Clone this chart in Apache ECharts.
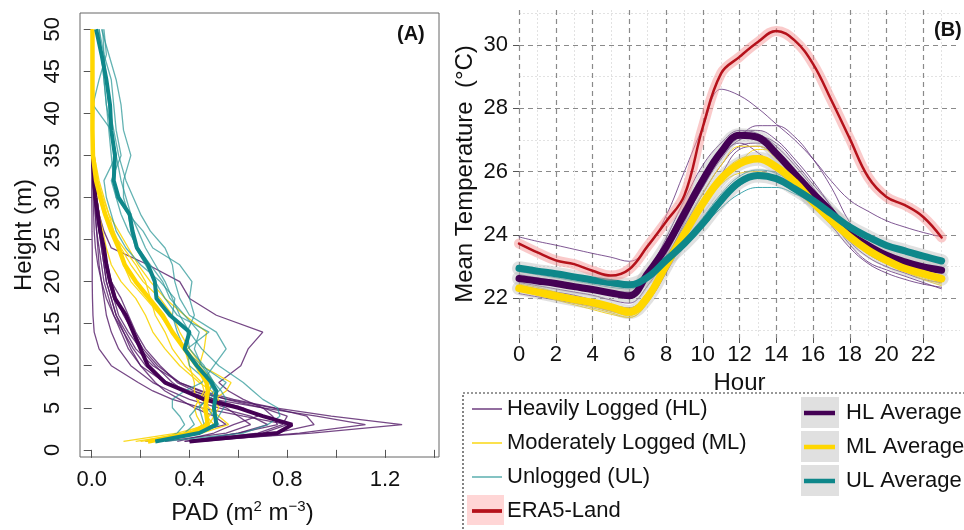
<!DOCTYPE html>
<html>
<head>
<meta charset="utf-8">
<script src="https://cdn.jsdelivr.net/npm/echarts@6.0.0/dist/echarts.min.js"></script>
<style>
  html, body { margin: 0; background: #fff; }
  #chart { width: 964px; height: 530px; }
</style>
</head>
<body>
<div id="chart"></div>
<script>
// ---- panel A : PAD profiles (height in m, PAD in m2 m-3) ----
const heights = [1, 2, 3, 4, 5, 6, 7, 8, 10, 12, 14, 16, 18, 20, 22, 24, 26, 28, 30, 32, 35, 38, 41, 44, 47, 50];
const padTicks = [0, 0.2, 0.4, 0.6, 0.8, 1.0, 1.2, 1.4];
const padLabels = [0, 0.4, 0.8, 1.2];
const heightTicks = [0, 5, 10, 15, 20, 25, 30, 35, 40, 45, 50];

// individual plots
const hlPad = [
  [0.40, 0.90, 1.27, 0.98, 0.75, 0.58, 0.45, 0.36, 0.25, 0.18, 0.14, 0.10, 0.08, 0.06, 0.05, 0.04, 0.03, 0.02, 0.01, 0.005, 0.0],
  [0.45, 0.85, 1.12, 0.92, 0.70, 0.50, 0.38, 0.30, 0.20, 0.15, 0.12, 0.09, 0.07, 0.05, 0.04, 0.03, 0.02, 0.015, 0.01, 0.005, 0.002],
  [0.42, 0.75, 0.91, 0.88, 0.74, 0.56, 0.40, 0.31, 0.22, 0.17, 0.13, 0.10, 0.08, 0.06, 0.05, 0.04, 0.03, 0.02, 0.015, 0.01, 0.005],
  [0.38, 0.60, 0.76, 0.74, 0.70, 0.62, 0.56, 0.52, 0.61, 0.64, 0.70, 0.51, 0.40, 0.36, 0.23, 0.08, 0.05, 0.03, 0.02, 0.01, 0.0],
  [0.45, 0.70, 0.80, 0.62, 0.45, 0.33, 0.25, 0.19, 0.08, 0.03, 0.01, 0.005, 0.003, 0.002, 0.002, 0.002, 0.001, 0.001, 0.0, 0.0, 0.0],
  [0.40, 0.60, 0.72, 0.65, 0.52, 0.40, 0.32, 0.25, 0.16, 0.11, 0.08, 0.06, 0.05, 0.04, 0.03, 0.025, 0.02, 0.015, 0.01, 0.005, 0.0],
  [0.30, 0.55, 0.65, 0.60, 0.55, 0.45, 0.38, 0.33, 0.26, 0.20, 0.15, 0.11, 0.09, 0.07, 0.06, 0.05, 0.04, 0.03, 0.02, 0.01, 0.005],
  [0.35, 0.50, 0.58, 0.68, 0.62, 0.50, 0.42, 0.35, 0.28, 0.22, 0.18, 0.15, 0.12, 0.08, 0.06, 0.045, 0.035, 0.025, 0.015, 0.01, 0.005],
  [0.22, 0.40, 0.55, 0.50, 0.42, 0.36, 0.30, 0.26, 0.20, 0.16, 0.13, 0.09, 0.06, 0.04, 0.025, 0.015, 0.01, 0.008, 0.006, 0.004, 0.003, 0.002, 0.001],
  [0.38, 0.68, 0.78, 0.80, 0.70, 0.55, 0.44, 0.36, 0.27, 0.21, 0.17, 0.13, 0.10, 0.08, 0.065, 0.05, 0.04, 0.03, 0.02, 0.01, 0.005]
];
const mlPad = [
  [0.13, 0.35, 0.48, 0.50, 0.52, 0.50, 0.55, 0.57, 0.45, 0.40, 0.36, 0.33, 0.28, 0.21, 0.16, 0.12, 0.09, 0.06, 0.04, 0.02, 0.005, 0.003, 0.002, 0.002, 0.002, 0.002],
  [0.20, 0.45, 0.56, 0.52, 0.48, 0.45, 0.47, 0.50, 0.44, 0.46, 0.47, 0.38, 0.30, 0.24, 0.19, 0.15, 0.11, 0.07, 0.045, 0.025, 0.008, 0.004, 0.003, 0.002, 0.002, 0.002],
  [0.26, 0.42, 0.45, 0.43, 0.42, 0.44, 0.46, 0.45, 0.38, 0.33, 0.30, 0.26, 0.24, 0.22, 0.18, 0.13, 0.08, 0.05, 0.03, 0.015, 0.005, 0.003, 0.002, 0.002, 0.002, 0.002],
  [0.22, 0.38, 0.46, 0.48, 0.50, 0.52, 0.49, 0.44, 0.36, 0.30, 0.25, 0.22, 0.18, 0.12, 0.08, 0.06, 0.045, 0.03, 0.02, 0.01, 0.004, 0.003, 0.003, 0.003, 0.003, 0.003],
  [0.18, 0.40, 0.50, 0.47, 0.45, 0.43, 0.42, 0.42, 0.40, 0.38, 0.33, 0.28, 0.22, 0.16, 0.13, 0.11, 0.09, 0.07, 0.05, 0.03, 0.01, 0.005, 0.01, 0.005, 0.003, 0.003]
];
const ulPad = [
  [0.30, 0.62, 0.72, 0.77, 0.76, 0.70, 0.66, 0.62, 0.52, 0.45, 0.40, 0.36, 0.33, 0.30, 0.26, 0.22, 0.19, 0.16, 0.14, 0.12, 0.10, 0.08, 0.06, 0.05, 0.04, 0.03],
  [0.27, 0.35, 0.38, 0.36, 0.33, 0.33, 0.38, 0.45, 0.50, 0.55, 0.51, 0.40, 0.36, 0.34, 0.33, 0.30, 0.24, 0.20, 0.17, 0.14, 0.11, 0.09, 0.07, 0.06, 0.05, 0.045],
  [0.25, 0.45, 0.52, 0.50, 0.47, 0.46, 0.48, 0.50, 0.46, 0.40, 0.39, 0.42, 0.40, 0.41, 0.36, 0.25, 0.21, 0.15, 0.10, 0.08, 0.12, 0.10, 0.09, 0.08, 0.05, 0.03],
  [0.28, 0.42, 0.46, 0.45, 0.44, 0.47, 0.50, 0.48, 0.40, 0.39, 0.48, 0.35, 0.30, 0.26, 0.22, 0.18, 0.16, 0.15, 0.13, 0.13, 0.16, 0.13, 0.12, 0.10, 0.07, 0.04],
  [0.26, 0.38, 0.42, 0.40, 0.43, 0.48, 0.52, 0.55, 0.45, 0.38, 0.35, 0.33, 0.34, 0.28, 0.20, 0.14, 0.10, 0.08, 0.06, 0.05, 0.10, 0.08, 0.005, 0.03, 0.06, 0.05],
  [0.24, 0.40, 0.50, 0.52, 0.54, 0.55, 0.53, 0.50, 0.45, 0.42, 0.44, 0.38, 0.32, 0.29, 0.24, 0.19, 0.15, 0.12, 0.10, 0.09, 0.08, 0.07, 0.06, 0.05, 0.04, 0.02]
];
// group averages
const hlPadAvg = [0.40, 0.76, 0.82, 0.70, 0.60, 0.46, 0.38, 0.30, 0.23, 0.20, 0.17, 0.14, 0.095, 0.075, 0.06, 0.05, 0.035, 0.025, 0.015, 0.01, 0.005];
const mlPadAvg = [0.23, 0.41, 0.475, 0.47, 0.465, 0.47, 0.475, 0.47, 0.43, 0.38, 0.33, 0.29, 0.235, 0.18, 0.135, 0.11, 0.08, 0.055, 0.035, 0.018, 0.005, 0.003, 0.003, 0.003, 0.003, 0.003];
const ulPadAvg = [0.26, 0.44, 0.51, 0.505, 0.50, 0.505, 0.51, 0.49, 0.43, 0.38, 0.40, 0.32, 0.265, 0.258, 0.23, 0.185, 0.167, 0.155, 0.11, 0.09, 0.095, 0.08, 0.075, 0.06, 0.04, 0.018];

// ---- panel B : diurnal mean temperature (deg C) ----
const hours = [0, 1, 2, 3, 4, 5, 6, 7, 8, 9, 10, 11, 12, 13, 14, 15, 16, 17, 18, 19, 20, 21, 22, 23];
const hourTicks = [0, 2, 4, 6, 8, 10, 12, 14, 16, 18, 20, 22];
const tempTicks = [22, 24, 26, 28, 30];
const tempMinor = [21, 23, 25, 27, 29, 31];

const hlTemp = [
  [23.94, 23.8, 23.68, 23.55, 23.42, 23.3, 23.17, 23.6, 24.6, 26.0, 27.4, 28.6, 28.4, 28.0, 27.5, 27.0, 26.4, 25.7, 25.1, 24.75, 24.45, 24.25, 24.08, 23.94],
  [22.7, 22.6, 22.5, 22.4, 22.3, 22.2, 22.1, 22.6, 23.4, 24.5, 25.5, 26.5, 27.1, 27.45, 27.45, 27.1, 26.4, 25.5, 24.4, 23.7, 23.3, 23.05, 22.85, 22.7],
  [22.75, 22.65, 22.55, 22.45, 22.35, 22.25, 22.2, 22.9, 23.8, 24.9, 25.9, 26.7, 27.2, 27.3, 27.0, 26.4, 25.7, 24.9, 24.1, 23.6, 23.3, 23.1, 22.95, 22.85],
  [22.6, 22.5, 22.4, 22.3, 22.2, 22.1, 22.0, 22.6, 23.5, 24.5, 25.5, 26.4, 27.0, 27.1, 26.9, 26.3, 25.6, 24.9, 24.0, 23.5, 23.2, 23.0, 22.8, 22.7],
  [22.5, 22.4, 22.3, 22.2, 22.1, 21.95, 21.85, 22.4, 23.3, 24.3, 25.3, 26.2, 26.8, 26.9, 26.6, 26.0, 25.3, 24.6, 23.8, 23.3, 23.0, 22.8, 22.6, 22.5],
  [22.15, 22.05, 21.95, 21.85, 21.75, 21.6, 21.5, 21.9, 22.8, 23.9, 25.0, 25.9, 26.7, 26.8, 26.5, 26.0, 25.3, 24.5, 23.7, 23.15, 22.9, 22.7, 22.5, 22.3],
  [22.7, 22.6, 22.5, 22.4, 22.3, 22.2, 22.1, 22.8, 23.9, 25.1, 26.2, 26.9, 27.3, 27.2, 26.8, 26.2, 25.5, 24.7, 23.9, 23.4, 23.1, 22.9, 22.75, 22.6],
  [22.4, 22.3, 22.2, 22.1, 21.95, 21.8, 21.7, 22.2, 23.2, 24.4, 25.6, 26.5, 26.9, 26.6, 26.1, 25.5, 24.9, 24.3, 23.6, 23.1, 22.8, 22.6, 22.45, 22.35]
];
const mlTemp = [
  [22.45, 22.35, 22.2, 22.05, 21.95, 21.8, 21.7, 22.2, 23.1, 24.2, 25.3, 26.2, 26.8, 26.8, 26.4, 25.8, 25.1, 24.5, 23.95, 23.55, 23.25, 23.0, 22.8, 22.65],
  [22.3, 22.15, 22.0, 21.85, 21.7, 21.55, 21.4, 21.85, 22.9, 23.9, 24.9, 25.7, 26.3, 26.7, 26.6, 26.0, 25.3, 24.6, 24.0, 23.55, 23.2, 22.95, 22.75, 22.55],
  [22.4, 22.25, 22.1, 21.95, 21.8, 21.65, 21.5, 21.95, 22.95, 23.95, 24.9, 25.6, 25.95, 26.0, 25.8, 25.4, 24.9, 24.4, 23.9, 23.45, 23.1, 22.85, 22.65, 22.45],
  [22.35, 22.2, 22.05, 21.9, 21.75, 21.6, 21.45, 22.0, 23.0, 24.0, 25.0, 25.8, 26.3, 26.4, 26.1, 25.6, 25.0, 24.4, 23.9, 23.5, 23.15, 22.9, 22.7, 22.5],
  [22.25, 22.1, 21.95, 21.8, 21.65, 21.5, 21.4, 21.9, 23.05, 24.1, 25.1, 25.9, 26.4, 26.5, 26.2, 25.7, 25.1, 24.5, 23.95, 23.45, 23.1, 22.85, 22.6, 22.4]
];
const ulTemp = [
  [22.85, 22.75, 22.65, 22.55, 22.45, 22.35, 22.3, 22.55, 23.1, 23.65, 24.25, 24.85, 25.3, 25.5, 25.5, 25.3, 25.0, 24.6, 24.2, 23.9, 23.65, 23.45, 23.3, 23.15],
  [23.0, 22.9, 22.8, 22.7, 22.6, 22.5, 22.45, 22.7, 23.25, 23.85, 24.55, 25.3, 25.85, 26.05, 25.95, 25.6, 25.15, 24.7, 24.3, 23.95, 23.7, 23.5, 23.35, 23.2],
  [22.95, 22.85, 22.75, 22.65, 22.55, 22.45, 22.4, 22.65, 23.2, 23.8, 24.45, 25.15, 25.7, 25.95, 25.85, 25.5, 25.1, 24.65, 24.25, 23.9, 23.65, 23.45, 23.3, 23.15],
  [22.9, 22.8, 22.7, 22.6, 22.5, 22.4, 22.35, 22.6, 23.15, 23.75, 24.35, 25.0, 25.55, 25.8, 25.75, 25.45, 25.05, 24.65, 24.2, 23.9, 23.65, 23.45, 23.3, 23.1]
];
const hlTempAvg = [22.63, 22.55, 22.47, 22.37, 22.28, 22.17, 22.08, 22.78, 23.62, 24.67, 25.73, 26.62, 27.15, 27.08, 26.57, 25.94, 25.31, 24.73, 24.04, 23.67, 23.36, 23.15, 22.99, 22.89];
const mlTempAvg = [22.32, 22.2, 22.08, 21.97, 21.87, 21.73, 21.57, 22.04, 23.04, 24.04, 24.99, 25.78, 26.25, 26.41, 26.15, 25.67, 25.04, 24.46, 23.94, 23.52, 23.2, 22.94, 22.78, 22.62];
const ulTempAvg = [22.95, 22.86, 22.78, 22.68, 22.58, 22.5, 22.43, 22.67, 23.2, 23.73, 24.36, 25.09, 25.67, 25.88, 25.78, 25.46, 25.09, 24.67, 24.25, 23.94, 23.67, 23.5, 23.33, 23.18];
const era5Temp = [23.73, 23.45, 23.2, 23.08, 22.87, 22.72, 22.92, 23.65, 24.42, 25.25, 27.4, 29.1, 29.62, 30.09, 30.44, 30.14, 29.4, 28.25, 27.04, 25.83, 25.2, 24.94, 24.57, 23.92];

const FONT = 'Liberation Sans, Arial, sans-serif';
const C = {
  hlThin: 'rgba(80,20,100,0.78)', mlThin: 'rgba(250,215,20,0.95)', ulThin: 'rgba(40,150,150,0.72)',
  hl: '#440154', ml: '#FFD700', ul: '#0E878A', era: '#B5121B', eraBand: 'rgba(245,150,150,0.5)',
  band: 'rgba(175,175,175,0.38)'
};
const NAMES = {
  hl: 'Heavily Logged (HL)', ml: 'Moderately Logged (ML)', ul: 'Unlogged (UL)', era: 'ERA5-Land',
  hlAvg: 'HL Average', mlAvg: 'ML Average', ulAvg: 'UL Average'
};

function profile(name, pad, color, width, z) {
  return {
    name, type: 'line', xAxisIndex: 0, yAxisIndex: 0, color, z,
    data: pad.map((p, i) => [p, heights[i]]),
    symbol: 'none', lineStyle: { width, color }, silent: true
  };
}
function diurnal(name, temp, color, width, z) {
  return {
    name, type: 'line', xAxisIndex: 1, yAxisIndex: 1, color, z,
    data: temp.map((t, i) => [hours[i], t]),
    symbol: 'none', smooth: 0.4, lineStyle: { width, color, cap: 'round' }, silent: true
  };
}

const series = [];
// averages first so legend takes their colours
series.push(diurnal(NAMES.hlAvg, hlTempAvg, C.hl, 7, 5));
series.push(diurnal(NAMES.mlAvg, mlTempAvg, C.ml, 7.5, 5));
series.push(diurnal(NAMES.ulAvg, ulTempAvg, C.ul, 7, 5));
series.push(diurnal(NAMES.era, era5Temp, C.era, 2.5, 7));
hlPad.forEach(p => series.push(profile(NAMES.hl, p, C.hlThin, 1.3, 2)));
mlPad.forEach(p => series.push(profile(NAMES.ml, p, C.mlThin, 1.3, 2)));
ulPad.forEach(p => series.push(profile(NAMES.ul, p, C.ulThin, 1.3, 2)));
series.push(profile(NAMES.hlAvg, hlPadAvg, C.hl, 4, 4));
series.push(profile(NAMES.mlAvg, mlPadAvg, C.ml, 4.5, 4));
series.push(profile(NAMES.ulAvg, ulPadAvg, C.ul, 4, 4));
hlTemp.forEach(t => series.push(diurnal(NAMES.hl, t, 'rgba(95,45,120,0.8)', 1, 2)));
mlTemp.forEach(t => series.push(diurnal(NAMES.ml, t, C.mlThin, 1, 2)));
ulTemp.forEach(t => series.push(diurnal(NAMES.ul, t, 'rgba(30,150,160,0.85)', 1, 2)));
// confidence ribbons drawn as wide translucent strokes under the means
[[NAMES.hlAvg, hlTempAvg], [NAMES.mlAvg, mlTempAvg], [NAMES.ulAvg, ulTempAvg]].forEach(([n, t]) =>
  series.push(diurnal(n, t, C.band, 14, 3)));
series.push(diurnal(NAMES.era, era5Temp, C.eraBand, 10, 6));

const tickStyle = { color: '#555', width: 1 };
const labelStyle = { color: '#111', fontSize: 22, fontFamily: FONT };

const option = {
  animation: false,
  backgroundColor: '#fff',
  textStyle: { fontFamily: FONT },
  title: [
    { text: '(A)', left: 397, top: 24, padding: 0, textStyle: { fontSize: 20, fontWeight: 'bold', fontFamily: FONT, color: '#111' } },
    { text: '(B)', left: 934, top: 20, padding: 0, textStyle: { fontSize: 20, fontWeight: 'bold', fontFamily: FONT, color: '#111' } }
  ],
  grid: [
    { left: 80, top: 13, width: 359, height: 454, show: true, borderColor: '#666', borderWidth: 1, backgroundColor: 'transparent' },
    { left: 519, top: 10, width: 441, height: 328 }
  ],
  xAxis: [
    {
      gridIndex: 0, type: 'value', min: -0.048, max: 1.421,
      axisLine: { show: false },
      axisTick: { customValues: padTicks, length: 8, lineStyle: tickStyle },
      axisLabel: Object.assign({ customValues: padLabels, margin: 12, formatter: v => v.toFixed(1) }, labelStyle),
      splitLine: { show: false },
      name: 'PAD (m{sup|2} m{sup|\u22123})', nameLocation: 'middle', nameGap: 42,
      nameTextStyle: {
        fontSize: 24, color: '#111', fontFamily: FONT, padding: [0, 34, 0, 0],
        rich: { sup: { fontSize: 15, verticalAlign: 'top', lineHeight: 28, padding: [0, 0, 9, 0], fontFamily: FONT, color: '#111' } }
      }
    },
    {
      gridIndex: 1, type: 'value', min: 0, max: 24, interval: 2,
      axisLine: { show: false },
      axisTick: { customValues: hourTicks, length: 5, lineStyle: tickStyle },
      axisLabel: Object.assign({ customValues: hourTicks, margin: 6 }, labelStyle),
      splitLine: { show: true, lineStyle: { color: '#8a8a8a', width: 1.2, type: [5, 4] } },
      minorTick: { show: false, splitNumber: 2 },
      minorSplitLine: { show: true, lineStyle: { color: '#e2e2e2', width: 1, type: [2, 2] } },
      name: 'Hour', nameLocation: 'middle', nameGap: 26,
      nameTextStyle: { fontSize: 24, color: '#111', fontFamily: FONT }
    }
  ],
  yAxis: [
    {
      gridIndex: 0, type: 'value', min: -0.85, max: 51.93,
      axisLine: { show: false },
      axisTick: { customValues: heightTicks, length: 8, lineStyle: tickStyle },
      axisLabel: Object.assign({ customValues: heightTicks, margin: 16, rotate: 90 }, labelStyle),
      splitLine: { show: false },
      name: 'Height (m)', nameLocation: 'middle', nameGap: 44,
      nameTextStyle: { fontSize: 24, color: '#111', fontFamily: FONT }
    },
    {
      gridIndex: 1, type: 'value', min: 20.75, max: 31.1,
      axisLine: { show: false },
      axisTick: { customValues: tempTicks, length: 6, lineStyle: tickStyle },
      axisLabel: Object.assign({ customValues: tempTicks, margin: 11 }, labelStyle),
      splitLine: { show: true, lineStyle: { color: '#8a8a8a', width: 1.2, type: [5, 4] } },
      name: 'Mean Temperature  (\u00b0C)', nameLocation: 'middle', nameGap: 42,
      nameTextStyle: { fontSize: 24, color: '#111', fontFamily: FONT }
    },
    {
      gridIndex: 1, type: 'value', min: 20.75, max: 31.1, position: 'left',
      axisLine: { show: false },
      axisTick: { show: false, customValues: tempMinor },
      axisLabel: { show: false, customValues: tempMinor },
      splitLine: { show: true, lineStyle: { color: '#e2e2e2', width: 1, type: [2, 2] } }
    }
  ],
  legend: [
    {
      orient: 'vertical', left: 472, top: 398, itemWidth: 30, itemHeight: 14, itemGap: 12,
      padding: 0, z: 10, selectedMode: false,
      textStyle: { fontSize: 22, lineHeight: 22, color: '#111', fontFamily: FONT },
      data: [
        { name: NAMES.hl, icon: 'path://M0 0H30V1.6H0Z' },
        { name: NAMES.ml, icon: 'path://M0 0H30V1.6H0Z' },
        { name: NAMES.ul, icon: 'path://M0 0H30V1.6H0Z' },
        { name: NAMES.era, icon: 'path://M0 0H32V4H0Z' }
      ]
    },
    {
      orient: 'vertical', left: 804, top: 402, itemWidth: 31, itemHeight: 14, itemGap: 12,
      padding: 0, z: 10, selectedMode: false,
      textStyle: { fontSize: 22, lineHeight: 22, color: '#111', fontFamily: FONT, padding: [0, 0, 0, 6] },
      data: [
        { name: NAMES.hlAvg, icon: 'path://M0 0H31V4.5H0Z' },
        { name: NAMES.mlAvg, icon: 'path://M0 0H31V4.5H0Z' },
        { name: NAMES.ulAvg, icon: 'path://M0 0H31V4.5H0Z' }
      ]
    }
  ],
  graphic: [
    { type: 'rect', z: 1, silent: true, shape: { x: 463, y: 393, width: 520, height: 160 },
      style: { fill: 'none', stroke: '#333', lineWidth: 1.2, lineDash: [2, 2] } },
    { type: 'rect', z: 1, silent: true, shape: { x: 467, y: 495, width: 37, height: 30 }, style: { fill: '#FFD6D6' } },
    { type: 'rect', z: 1, silent: true, shape: { x: 801, y: 397, width: 38, height: 31 }, style: { fill: '#E0E0E0' } },
    { type: 'rect', z: 1, silent: true, shape: { x: 801, y: 431, width: 38, height: 31 }, style: { fill: '#E0E0E0' } },
    { type: 'rect', z: 1, silent: true, shape: { x: 801, y: 465, width: 38, height: 31 }, style: { fill: '#E0E0E0' } }
  ],
  series
};

const chart = echarts.init(document.getElementById('chart'), null, { renderer: 'canvas' });
chart.setOption(option);
</script>
</body>
</html>
